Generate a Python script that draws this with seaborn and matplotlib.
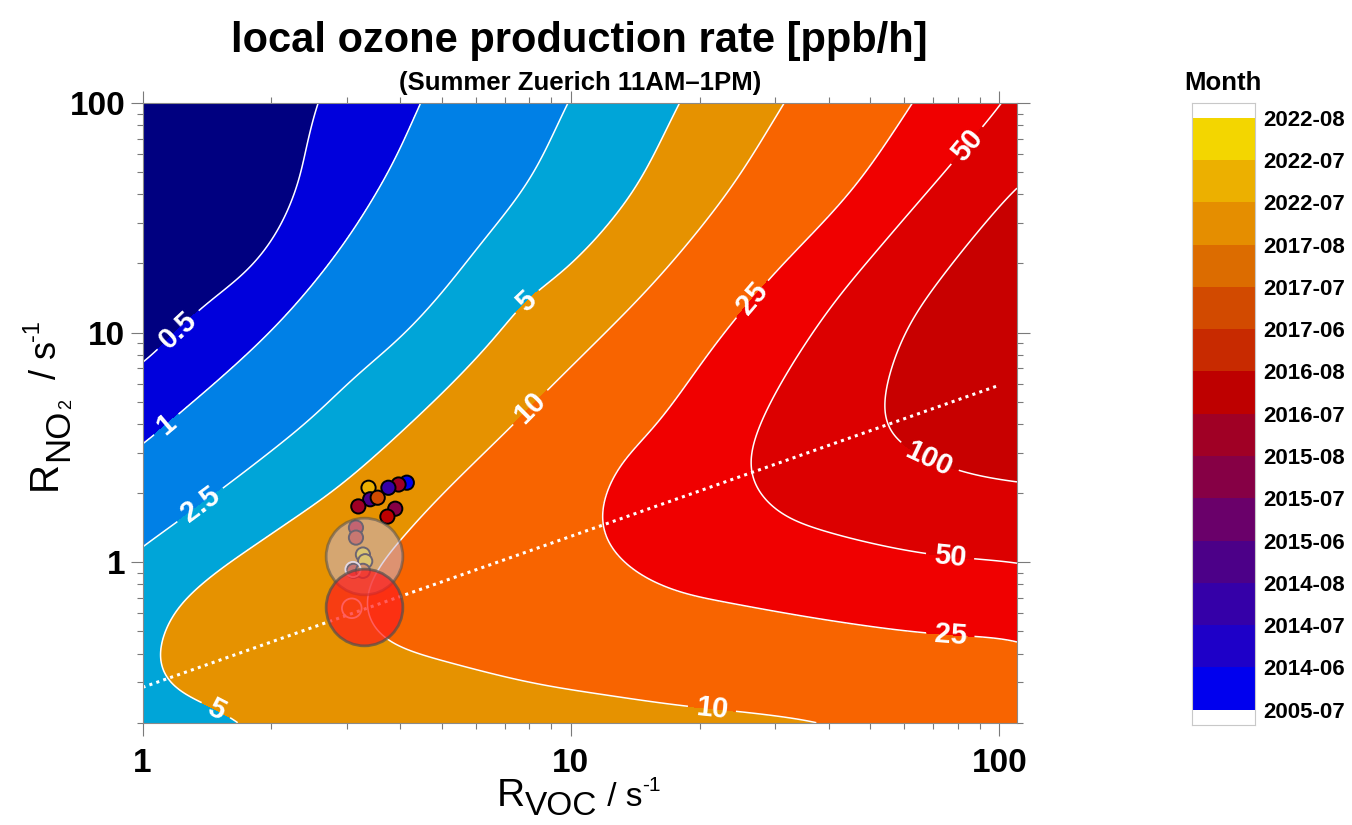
import numpy as np
import pandas as pd
import matplotlib
matplotlib.use("Agg")
import matplotlib.pyplot as plt
import seaborn as sns
from matplotlib.colors import ListedColormap
from matplotlib.ticker import LogLocator, NullFormatter

# ------------------------------------------------------------------ data
LEVELS = [0.5, 1, 2.5, 5, 10, 25, 50, 100]
LEVEL_TEXT = ["0.5", "1", "2.5", "5", "10", "25", "50", "100"]
FILL_COLORS = ["#000080", "#0000DC", "#0080E6", "#00A5D8", "#E69200",
               "#F86400", "#F00000", "#DC0000", "#C80000"]

# contour lines (R_VOC, R_NO2 in s-1)
C05_VOC = [2.55, 2.40, 2.33, 2.09, 1.80, 1.34, 1.005]
C05_NO2 = [99.8, 63.0, 47.1, 28.5, 19.3, 12.4, 7.26]
C1_VOC = [4.45, 3.86, 3.11, 2.51, 1.95, 1.49, 1.23, 1.005]
C1_NO2 = [99.8, 55.6, 28.5, 16.7, 9.79, 6.14, 4.55, 3.26]
C2P5_VOC = [9.80, 8.04, 6.15, 4.96, 4.00, 3.11, 2.49, 2.02, 1.57, 1.005]
C2P5_NO2 = [99.8, 47.1, 24.2, 14.6, 9.48, 6.35, 4.27, 3.10, 2.15, 1.16]
C5_VOC = [17.9, 13.8, 9.62, 7.83, 6.73, 4.70, 2.89, 2.02, 1.41, 1.18,
          1.09, 1.08, 1.10, 1.18, 1.41, 1.72]
C5_NO2 = [99.8, 39.8, 18.5, 13.9, 9.79, 4.86, 2.15, 1.35, 0.843, 0.604,
          0.405, 0.366, 0.335, 0.290, 0.245, 0.204]
C10_VOC = [31.4, 23.6, 16.5, 11.5, 8.95, 7.35, 4.95, 4.14, 3.46, 3.34, 3.59,
           4.14, 4.95, 8.04, 12.6, 18.4, 25.8, 36.9]
C10_NO2 = [99.8, 42.6, 18.5, 9.16, 5.75, 3.98, 1.94, 1.35, 0.871, 0.646, 0.479,
           0.419, 0.378, 0.300, 0.262, 0.237, 0.222, 0.204]
C25_VOC = [62.7, 45.8, 28.7, 22.3, 15.9, 12.8, 11.8, 12.4, 14.3, 18.0, 22.3,
           38.3, 65.6, 110.0]
C25_NO2 = [99.8, 42.6, 16.7, 9.48, 3.98, 2.54, 1.54, 1.18, 0.902, 0.738, 0.679,
           0.565, 0.494, 0.462]
C50_VOC = [100.9, 77.1, 54.8, 38.3, 27.7, 26.2, 30.8, 38.3, 65.6, 110.0]
C50_NO2 = [97.9, 53.7, 25.8, 11.2, 3.98, 2.54, 1.64, 1.39, 1.10, 0.998]
C100_VOC = [110.0, 78.3, 61.1, 54.8, 54.3, 58.9, 81.3, 110.0]
C100_NO2 = [44.0, 20.4, 10.5, 5.75, 3.98, 3.31, 2.49, 2.22]

# dotted ridge line
RIDGE_VOC = [1.0, 100.0]
RIDGE_NO2 = [0.285, 5.9]

# contour label positions (R_VOC, R_NO2)
LABEL_VOC = [1.18, 1.11, 1.35, 7.83, 7.83, 1.50, 21.4, 25.8, 82.0, 69.2, 77.0, 77.0]
LABEL_NO2 = [10.8, 4.19, 1.82, 13.9, 4.96, 0.236, 0.241, 14.6, 67.9, 2.95, 1.12, 0.511]

# monthly points
MONTH_TICKS = ["2005-07", "2014-06", "2014-07", "2014-08", "2015-06", "2015-07",
               "2015-08", "2016-07", "2016-08", "2017-06", "2017-07", "2017-08",
               "2022-07", "2022-07", "2022-08"]
MONTH_COLORS = ["#0000EE", "#1E00C8", "#3500A8", "#4C0088", "#6A006A", "#860045",
                "#A00025", "#BE0000", "#C82A00", "#D24A00", "#DC6C00", "#E58E00",
                "#ECB000", "#F3D600"]
PT_VOC = [4.14, 3.96, 3.75, 3.37, 3.40, 3.54, 3.19, 3.89, 3.73, 3.15, 3.15, 3.27, 3.31, 3.11, 3.27]
PT_NO2 = [2.22, 2.18, 2.11, 2.11, 1.88, 1.91, 1.75, 1.71, 1.58, 1.415, 1.28, 1.08, 1.01, 0.917, 0.917]
PT_BAND = [0, 6, 2, 12, 3, 9, 6, 5, 7, 7, 8, 13, 13, 8, 10]

HOLLOW_VOC = [3.08, 3.10]
HOLLOW_NO2 = [0.63, 0.93]

BIG_VOC = [3.29, 3.29]
BIG_NO2 = [1.065, 0.639]
BIG_FACE = ["#C8B8D0", "#FF1A1A"]
BIG_ALPHA = [0.55, 0.7]

# ------------------------------------------------------------------ style
sns.set_theme(style="ticks")
plt.rcParams["font.family"] = ["Liberation Sans", "DejaVu Sans"]
plt.rcParams["axes.unicode_minus"] = False
plt.rcParams["text.color"] = "black"

W, H = 1352, 825
fig = plt.figure(figsize=(W / 100, H / 100), dpi=100)
fig.patch.set_facecolor("white")


def fx(px):
    return px / W


def fy(py):
    return 1 - py / H


ax = fig.add_axes([fx(142.5), fy(722.7), fx(1017) - fx(142.5), fy(103) - fy(722.7)])
ax.set_xscale("log")
ax.set_yscale("log")
ax.set_xlim(1, 110)
ax.set_ylim(0.2, 100)

# ------------------------------------------------------------------ smooth field through the traced contours
traces = [(C05_VOC, C05_NO2, 0.5), (C1_VOC, C1_NO2, 1), (C2P5_VOC, C2P5_NO2, 2.5),
          (C5_VOC, C5_NO2, 5), (C10_VOC, C10_NO2, 10), (C25_VOC, C25_NO2, 25),
          (C50_VOC, C50_NO2, 50), (C100_VOC, C100_NO2, 100)]
SY = 230.0 / 428.0   # screen aspect: one y-decade is shorter than one x-decade


def smooth_curve(vx, vy, step=0.025):
    """centripetal Catmull-Rom curve through the traced points (log/screen space)"""
    pts = np.column_stack([np.log10(vx), np.log10(vy) * SY])
    ext = np.vstack([2 * pts[0] - pts[1], pts, 2 * pts[-1] - pts[-2]])
    out = [pts[0]]
    for i in range(1, len(ext) - 2):
        p0, p1, p2, p3 = ext[i - 1], ext[i], ext[i + 1], ext[i + 2]
        t0 = 0.0
        t1 = t0 + max(np.linalg.norm(p1 - p0), 1e-6) ** 0.5
        t2 = t1 + max(np.linalg.norm(p2 - p1), 1e-6) ** 0.5
        t3 = t2 + max(np.linalg.norm(p3 - p2), 1e-6) ** 0.5
        k = max(1, int(np.ceil(np.linalg.norm(p2 - p1) / step)))
        for u in np.arange(1, k + 1) / k:
            t = t1 + (t2 - t1) * u
            a1 = (t1 - t) / (t1 - t0) * p0 + (t - t0) / (t1 - t0) * p1
            a2 = (t2 - t) / (t2 - t1) * p1 + (t - t1) / (t2 - t1) * p2
            a3 = (t3 - t) / (t3 - t2) * p2 + (t - t2) / (t3 - t2) * p3
            b1 = (t2 - t) / (t2 - t0) * a1 + (t - t0) / (t2 - t0) * a2
            b2 = (t3 - t) / (t3 - t1) * a2 + (t - t1) / (t3 - t1) * a3
            out.append((t2 - t) / (t2 - t1) * b1 + (t - t1) / (t2 - t1) * b2)
    out = np.array(out)
    return out[:, 0], out[:, 1]


NX, NY, NT = [], [], []
for vx, vy, lev in traces:
    a, b = smooth_curve(vx, vy)
    NX.append(a)
    NY.append(b)
    NT.append(np.full(len(a), np.log10(lev)))
NX, NY, NT = np.concatenate(NX), np.concatenate(NY), np.concatenate(NT)


def tps_kernel(r):
    with np.errstate(divide="ignore", invalid="ignore"):
        k = r ** 2 * np.log(r)
    return np.where(r > 0, k, 0.0)


npt = len(NX)
K = tps_kernel(np.hypot(NX[:, None] - NX[None, :], NY[:, None] - NY[None, :]))
Pm = np.column_stack([np.ones(npt), NX, NY])
M = np.zeros((npt + 3, npt + 3))
M[:npt, :npt] = K + 2.5e-2 * np.eye(npt)
M[:npt, npt:] = Pm
M[npt:, :npt] = Pm.T
sol = np.linalg.solve(M, np.concatenate([NT, np.zeros(3)]))
wts, aff = sol[:npt], sol[npt:]

gx = np.logspace(0, np.log10(110), 340)
gy = np.logspace(np.log10(0.2), 2, 340)
GX, GY = np.meshgrid(gx, gy)
QX = np.log10(GX).ravel()
QY = np.log10(GY).ravel() * SY
vals = np.empty(QX.size)
for s in range(0, QX.size, 6000):
    qx, qy = QX[s:s + 6000], QY[s:s + 6000]
    Kq = tps_kernel(np.hypot(qx[:, None] - NX[None, :], qy[:, None] - NY[None, :]))
    vals[s:s + 6000] = Kq @ wts + aff[0] + aff[1] * qx + aff[2] * qy
P = 10 ** vals.reshape(GX.shape)

ax.contourf(GX, GY, P, levels=[0] + LEVELS + [1e12], colors=FILL_COLORS, zorder=0)
cs = ax.contour(GX, GY, P, levels=LEVELS, colors="white", linewidths=1.1, zorder=1)
lbls = ax.clabel(cs, levels=LEVELS, manual=list(zip(LABEL_VOC, LABEL_NO2)), inline=True,
                 inline_spacing=8, fmt=dict(zip(LEVELS, LEVEL_TEXT)), fontsize=21,
                 colors="white")
for t in lbls:
    t.set_fontweight("bold")

# ridge line
ax.plot(RIDGE_VOC, RIDGE_NO2, color="white", lw=2.2, linestyle=(0, (1, 1.4)),
        dash_capstyle="butt", zorder=2)

# points
pts = pd.DataFrame({"voc": PT_VOC, "no2": PT_NO2, "band": PT_BAND})
sns.scatterplot(data=pts, x="voc", y="no2", hue="band",
                palette={i: c for i, c in enumerate(MONTH_COLORS)},
                s=105, edgecolor="black", linewidth=1.4, legend=False, ax=ax, zorder=3)
ax.scatter(HOLLOW_VOC, HOLLOW_NO2, s=[200, 120], facecolors="none", edgecolors="white",
           linewidths=1.3, zorder=3)
for bx, by, fc, al in zip(BIG_VOC, BIG_NO2, BIG_FACE, BIG_ALPHA):
    ax.scatter([bx], [by], s=3050, color=fc, alpha=al, edgecolors="#505050",
               linewidths=2.0, zorder=4)

# axes styling
ax.set_xlabel("")
ax.set_ylabel("")
ax.set_xticks([1, 10, 100], labels=["1", "10", "100"], fontsize=24, fontweight="bold")
ax.set_yticks([1, 10, 100], labels=["1", "10", "100"], fontsize=24, fontweight="bold")
ax.xaxis.set_minor_locator(LogLocator(base=10, subs=np.arange(2, 10)))
ax.yaxis.set_minor_locator(LogLocator(base=10, subs=np.arange(2, 10)))
ax.xaxis.set_minor_formatter(NullFormatter())
ax.yaxis.set_minor_formatter(NullFormatter())
ax.tick_params(which="both", direction="out", top=True, right=True, color="#7a7a7a",
               width=0.8, labelcolor="black")
ax.tick_params(which="major", length=9)
ax.tick_params(which="minor", length=4.5)
ax.tick_params(axis="x", which="major", pad=9)
ax.tick_params(axis="y", which="major", pad=3.5)
for sp in ax.spines.values():
    sp.set_color("#8a8a8a")
    sp.set_linewidth(0.8)
    sp.set_visible(True)


# axis labels built from pieces (text, size, baseline offset px)
def chain(pieces, x0, y0, vertical=False):
    prev = None
    for txt, size, off in pieces:
        kw = dict(fontsize=size, ha="left", va="baseline", rotation_mode="anchor",
                  rotation=90 if vertical else 0, annotation_clip=False, color="black")
        if vertical:
            if prev is None:
                t = ax.annotate(txt, xy=(x0 - off, y0), xycoords="figure pixels", **kw)
            else:
                t = ax.annotate(txt, xy=(x0 - off, 1.0), xycoords=("figure pixels", prev), **kw)
        else:
            if prev is None:
                t = ax.annotate(txt, xy=(x0, y0 + off), xycoords="figure pixels", **kw)
            else:
                t = ax.annotate(txt, xy=(1.0, y0 + off), xycoords=(prev, "figure pixels"), **kw)
        prev = t


chain([("R", 28, 0), ("VOC", 24, -9), (" / s", 24, 0), ("-1", 15, 15)], 497, H - 806)
chain([("R", 29, 0), ("NO", 25, -12), ("2", 13, -15), ("  / s", 26, 0), ("-1", 17, 17)],
      56, H - 490, vertical=True)

# titles
fig.text(fx(579.75), fy(52), "local ozone production rate [ppb/h]", ha="center",
         va="baseline", fontsize=30, fontweight="bold", color="black")
fig.text(fx(579.75), fy(90), "(Summer Zuerich 11AM\u20131PM)", ha="center",
         va="baseline", fontsize=18.5, fontweight="bold", color="black")

# colorbar
cax = fig.add_axes([fx(1192), fy(724.5), fx(1255) - fx(1192), fy(103) - fy(724.5)])
ext = 15 / 42.3
n = len(MONTH_COLORS)
edges = np.concatenate([[-ext], np.arange(n + 1), [n + ext]])
cb_colors = ["white"] + MONTH_COLORS + ["white"]
cax.pcolormesh([0, 1], edges, np.arange(n + 2).reshape(-1, 1),
               cmap=ListedColormap(cb_colors), vmin=-0.5, vmax=n + 1.5, shading="flat")
cax.set_xlim(0, 1)
cax.set_ylim(edges[0], edges[-1])
cax.set_xticks([])
cax.yaxis.tick_right()
cax.set_yticks(np.arange(n + 1), labels=MONTH_TICKS, fontsize=16, fontweight="bold")
cax.tick_params(axis="y", direction="in", length=3, color="#999999", pad=6, width=0.6,
                labelcolor="black")
for sp in cax.spines.values():
    sp.set_color("#c8c8c8")
    sp.set_linewidth(0.8)
fig.text(fx(1223), fy(90), "Month", ha="center", va="baseline", fontsize=18.5,
         fontweight="bold", color="black")

fig.savefig("out.png", dpi=100)
